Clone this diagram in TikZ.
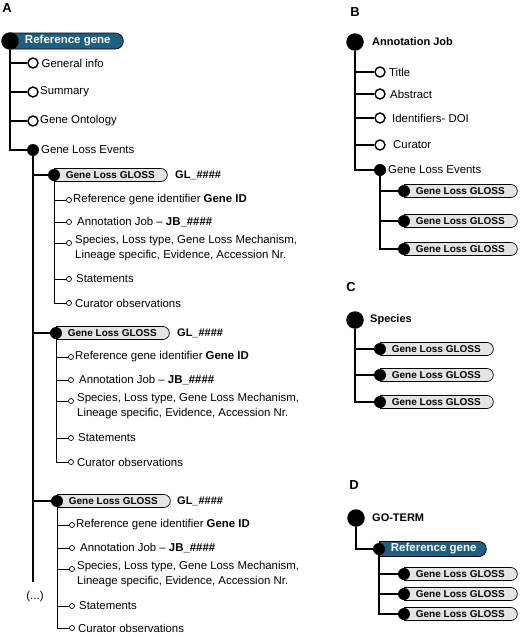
\documentclass[tikz,border=0pt]{standalone}
\usepackage{fontspec}
\setmainfont{Liberation Sans}
\usetikzlibrary{shapes.misc}
\definecolor{refblue}{HTML}{1D5F82}
\definecolor{pillgrey}{HTML}{E4E4E4}
\tikzset{
  trunk/.style={line width=1.6pt},
  twig/.style={line width=1pt},
  bigdot/.style={circle, fill=black, minimum size=17.5pt, inner sep=0pt},
  dot/.style={circle, fill=black, minimum size=12pt, inner sep=0pt},
  ring/.style={circle, draw, fill=white, line width=1.4pt, minimum size=10pt, inner sep=0pt},
  tinyring/.style={circle, draw, fill=white, line width=0.7pt, minimum size=5pt, inner sep=0pt},
  pill/.style={rounded rectangle, rounded rectangle west arc=none, draw, line width=0.7pt,
    minimum height=13pt, minimum width=113pt, anchor=west, inner sep=0pt},
  gloss/.style={pill, fill=pillgrey, font=\bfseries\fontsize{10}{12}\selectfont},
  refpill/.style={pill, fill=refblue, text=white, minimum height=15pt,
    font=\bfseries\fontsize{11.5}{13}\selectfont, execute at begin node={\hspace*{4pt}}},
  txt/.style={anchor=west, inner sep=0pt, font=\fontsize{11.4}{15}\selectfont},
  head/.style={anchor=west, inner sep=0pt, font=\bfseries\fontsize{11}{13}\selectfont},
  panel/.style={inner sep=0pt, font=\bfseries\fontsize{13}{15}\selectfont}
}
\begin{document}
\begin{tikzpicture}[x=1pt,y=-1pt]
  \useasboundingbox (0,0) rectangle (520,635);
  % panel letters
  \node[panel] (labA) at (7,8) {A};
  \node[panel] (labB) at (355,12) {B};
  \node[panel] (labC) at (351,287) {C};
  \node[panel] (labD) at (354,485) {D};

  % ---- A: reference gene
  \node[refpill, minimum height=16pt] (aPill) at (10,41) {Reference gene};
  \node[bigdot] (aRoot) at (10,41) {};
  \node[ring] (aInfo) at (33,63) {};
  \node[ring] (aSum) at (33,92) {};
  \node[ring] (aOnt) at (33,121) {};
  \node[dot] (aEvt) at (33,150) {};
  \node[txt] (aInfoT) at (41.5,63) {General info};
  \node[txt] (aSumT) at (40,92) {Summary};
  \node[txt] (aOntT) at (40,121) {Gene Ontology};
  \node[txt] (aEvtT) at (41,150) {Gene Loss Events};
  \coordinate (aEnd) at (33,582);
  \node[txt, anchor=center] (aMore) at (35,597) {(...)};
  \draw[trunk] (aRoot) |- (aInfo);
  \draw[trunk] (aRoot) |- (aSum);
  \draw[trunk] (aRoot) |- (aOnt);
  \draw[trunk] (aRoot) |- (aEvt);
  \draw[trunk] (aEvt) -- (aEnd);

  % first gloss
  \node[gloss] (g1Pill) at (54,175) {Gene Loss GLOSS};
  \node[dot] (g1) at (54,175) {};
  \node[head] (g1Id) at (175,175) {GL\_\#\#\#\#};
  \node[tinyring] (g1a) at (69,200) {};
  \node[tinyring] (g1b) at (69,222) {};
  \node[tinyring] (g1c) at (69,243) {};
  \node[tinyring] (g1d) at (69,279) {};
  \node[tinyring] (g1e) at (69,303) {};
  \node[txt] (g1aT) at (73,200) {Reference gene identifier \textbf{Gene ID}};
  \node[txt] (g1bT) at (77,222) {Annotation Job -- \textbf{JB\_\#\#\#\#}};
  \node[txt, anchor=north west, align=left] (g1cT) at (75,235) {Species, Loss type, Gene Loss Mechanism,\\Lineage specific, Evidence, Accession Nr.};
  \node[txt] (g1dT) at (76,279) {Statements};
  \node[txt] (g1eT) at (75,303) {Curator observations};
  \draw[trunk] (aEvt) |- (g1);
  \draw[twig] (g1) |- (g1a);
  \draw[twig] (g1) |- (g1b);
  \draw[twig] (g1) |- (g1c);
  \draw[twig] (g1) |- (g1d);
  \draw[twig] (g1) |- (g1e);

  % second gloss
  \node[gloss] (g2Pill) at (56,333) {Gene Loss GLOSS};
  \node[dot] (g2) at (56,333) {};
  \node[head] (g2Id) at (177,333) {GL\_\#\#\#\#};
  \node[tinyring] (g2a) at (71,357) {};
  \node[tinyring] (g2b) at (71,380) {};
  \node[tinyring] (g2c) at (71,401) {};
  \node[tinyring] (g2d) at (71,438) {};
  \node[tinyring] (g2e) at (71,462) {};
  \node[txt] (g2aT) at (75,357) {Reference gene identifier \textbf{Gene ID}};
  \node[txt] (g2bT) at (79,380) {Annotation Job -- \textbf{JB\_\#\#\#\#}};
  \node[txt, anchor=north west, align=left] (g2cT) at (77,393) {Species, Loss type, Gene Loss Mechanism,\\Lineage specific, Evidence, Accession Nr.};
  \node[txt] (g2dT) at (78,438) {Statements};
  \node[txt] (g2eT) at (77,462) {Curator observations};
  \draw[trunk] (aEvt) |- (g2);
  \draw[twig] (g2) |- (g2a);
  \draw[twig] (g2) |- (g2b);
  \draw[twig] (g2) |- (g2c);
  \draw[twig] (g2) |- (g2d);
  \draw[twig] (g2) |- (g2e);

  % third gloss
  \node[gloss] (g3Pill) at (57,501) {Gene Loss GLOSS};
  \node[dot] (g3) at (57,501) {};
  \node[head] (g3Id) at (177,501) {GL\_\#\#\#\#};
  \node[tinyring] (g3a) at (72,525) {};
  \node[tinyring] (g3b) at (72,548) {};
  \node[tinyring] (g3c) at (72,569) {};
  \node[tinyring] (g3d) at (72,606) {};
  \node[tinyring] (g3e) at (72,628) {};
  \node[txt] (g3aT) at (76,525) {Reference gene identifier \textbf{Gene ID}};
  \node[txt] (g3bT) at (80,548) {Annotation Job -- \textbf{JB\_\#\#\#\#}};
  \node[txt, anchor=north west, align=left] (g3cT) at (77,561) {Species, Loss type, Gene Loss Mechanism,\\Lineage specific, Evidence, Accession Nr.};
  \node[txt] (g3dT) at (79,606) {Statements};
  \node[txt] (g3eT) at (78,628) {Curator observations};
  \draw[trunk] (aEvt) |- (g3);
  \draw[twig] (g3) |- (g3a);
  \draw[twig] (g3) |- (g3b);
  \draw[twig] (g3) |- (g3c);
  \draw[twig] (g3) |- (g3d);
  \draw[twig] (g3) |- (g3e);

  % ---- B: annotation job
  \node[bigdot] (bRoot) at (355,42) {};
  \node[head] (bRootT) at (372,42) {Annotation Job};
  \node[ring] (bTitle) at (380,72) {};
  \node[ring] (bAbs) at (380,94) {};
  \node[ring] (bDoi) at (380,118) {};
  \node[ring] (bCur) at (380,145) {};
  \node[dot] (bEvt) at (380,170) {};
  \node[txt] (bTitleT) at (389,72) {Title};
  \node[txt] (bAbsT) at (390,94) {Abstract};
  \node[txt] (bDoiT) at (392,118) {Identifiers- DOI};
  \node[txt] (bCurT) at (393,145) {Curator};
  \node[txt] (bEvtT) at (388,170) {Gene Loss Events};
  \node[gloss] (b1Pill) at (404,191) {Gene Loss GLOSS};
  \node[gloss] (b2Pill) at (404,221) {Gene Loss GLOSS};
  \node[gloss] (b3Pill) at (404,249) {Gene Loss GLOSS};
  \node[dot] (b1) at (404,191) {};
  \node[dot] (b2) at (404,221) {};
  \node[dot] (b3) at (404,249) {};
  \draw[trunk] (bRoot) |- (bTitle);
  \draw[trunk] (bRoot) |- (bAbs);
  \draw[trunk] (bRoot) |- (bDoi);
  \draw[trunk] (bRoot) |- (bCur);
  \draw[trunk] (bRoot) |- (bEvt);
  \draw[trunk] (bEvt) |- (b1);
  \draw[trunk] (bEvt) |- (b2);
  \draw[trunk] (bEvt) |- (b3);

  % ---- C: species
  \node[bigdot] (cRoot) at (355,320) {};
  \node[head] (cRootT) at (370,320) {Species};
  \node[gloss] (c1Pill) at (380,349) {Gene Loss GLOSS};
  \node[gloss] (c2Pill) at (380,375) {Gene Loss GLOSS};
  \node[gloss] (c3Pill) at (380,402) {Gene Loss GLOSS};
  \node[dot] (c1) at (380,349) {};
  \node[dot] (c2) at (380,375) {};
  \node[dot] (c3) at (380,402) {};
  \draw[trunk] (cRoot) |- (c1);
  \draw[trunk] (cRoot) |- (c2);
  \draw[trunk] (cRoot) |- (c3);

  % ---- D: GO term
  \node[bigdot] (dRoot) at (356,518) {};
  \node[head] (dRootT) at (372,518) {GO-TERM};
  \node[refpill, minimum width=107pt] (dPill) at (379,549) {Reference gene};
  \node[dot] (dRef) at (379,549) {};
  \node[gloss] (d1Pill) at (404,574) {Gene Loss GLOSS};
  \node[gloss] (d2Pill) at (404,594) {Gene Loss GLOSS};
  \node[gloss] (d3Pill) at (404,614) {Gene Loss GLOSS};
  \node[dot] (d1) at (404,574) {};
  \node[dot] (d2) at (404,594) {};
  \node[dot] (d3) at (404,614) {};
  \draw[trunk] (dRoot) |- (dRef);
  \draw[trunk] (dRef) |- (d1);
  \draw[trunk] (dRef) |- (d2);
  \draw[trunk] (dRef) |- (d3);
\end{tikzpicture}
\end{document}
